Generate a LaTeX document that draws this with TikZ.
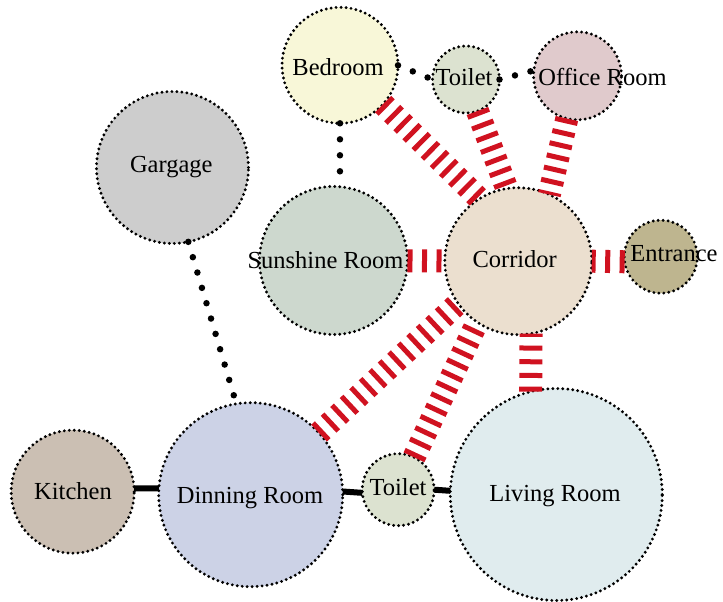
\documentclass[tikz,border=0pt]{standalone}
\usepackage{fontspec}
\setmainfont{Liberation Serif}
\newfontfamily\roomfont{Liberation Serif}
\definecolor{cbed}{RGB}{248,247,216}
\definecolor{ctoi}{RGB}{220,226,208}
\definecolor{coff}{RGB}{224,202,204}
\definecolor{cgar}{RGB}{205,205,205}
\definecolor{csun}{RGB}{205,216,206}
\definecolor{ccor}{RGB}{235,223,207}
\definecolor{cent}{RGB}{190,181,143}
\definecolor{ckit}{RGB}{203,191,179}
\definecolor{cdin}{RGB}{204,210,230}
\definecolor{cliv}{RGB}{224,236,238}
\definecolor{stripered}{RGB}{208,18,32}
\begin{document}
\begin{tikzpicture}[x=1pt,y=-1pt,
  room/.style={circle, draw=black, line width=3.2pt, dash pattern=on 0pt off 5pt, line cap=round, inner sep=0pt, outer sep=0pt, minimum size=#1},
  lbl/.style={inner sep=0pt, anchor=base, font=\roomfont\fontsize{24.5}{28}\selectfont},
  stripe/.style={draw=stripered, line width=23pt, dash pattern=on 5pt off #1},
  dots/.style={draw=black, line width=6.5pt, line cap=round, dash pattern=on 0pt off 16pt},
  thick link/.style={draw=black, line width=6pt}]
\useasboundingbox (0,0) rectangle (723,602);

% rooms
\node[room=116, fill=cbed] (bed) at (340,65.3) {};
\node[room=67, fill=ctoi] (toi1) at (466,79.5) {};
\node[room=88, fill=coff] (off) at (577.5,75.8) {};
\node[room=152, fill=cgar] (gar) at (172.5,167.5) {};
\node[room=148, fill=csun] (sun) at (333.5,260.5) {};
\node[room=147, fill=ccor] (cor) at (518.3,261.2) {};
\node[room=73, fill=cent] (ent) at (660.8,256.7) {};
\node[room=123, fill=ckit] (kit) at (72.7,491.7) {};
\node[room=184, fill=cdin] (din) at (250.7,494.7) {};
\node[room=72, fill=ctoi] (toi2) at (398.2,489.7) {};
\node[room=212, fill=cliv] (liv) at (556.3,494.5) {};

% red striped connectors
\draw[stripe=9.5pt] (sun) -- (cor);
\draw[stripe=9.5pt] (ent.-172) -- (cor.0);
\draw[stripe=7.8pt] (bed.-42) -- (cor.122);
\draw[stripe=7.5pt] (toi1.-70) -- (cor.99);
\draw[stripe=7.5pt] (off.-104) -- (cor.65);
\draw[stripe=8pt] (din.42) -- (cor.-145);
\draw[stripe=7.5pt] (toi2.64) -- (cor.-124);
\draw[stripe=8.7pt] (liv.104) -- (cor.-80);

% dotted connectors
\draw[dots] (bed.0) -- (toi1.180);
\draw[dots] (toi1.0) -- (off.173);
\draw[dots] (bed.-90) -- (sun.85);
\draw[dots] (gar.-78) -- (din.99);

% solid connectors
\draw[thick link] (kit.3) -- (din.176);
\draw[thick link] (din.2) -- (toi2.185);
\draw[thick link] (toi2.0) -- (liv.178);

% labels
\node[lbl] (tbed) at (338,75) {Bedroom};
\node[lbl] (ttoi1) at (464,85) {Toilet};
\node[lbl] (toff) at (602.5,85) {Office Room};
\node[lbl] (tgar) at (171.3,172.7) {Gargage};
\node[lbl] (tsun) at (325.5,268) {Sunshine Room};
\node[lbl] (tcor) at (514.7,267.3) {Corridor};
\node[lbl] (tent) at (674,261.7) {Entrance};
\node[lbl] (tkit) at (73,499.3) {Kitchen};
\node[lbl] (tdin) at (250,503.3) {Dinning Room};
\node[lbl] (ttoi2) at (398,495.7) {Toilet};
\node[lbl] (tliv) at (555,501.7) {Living Room};
\end{tikzpicture}
\end{document}
